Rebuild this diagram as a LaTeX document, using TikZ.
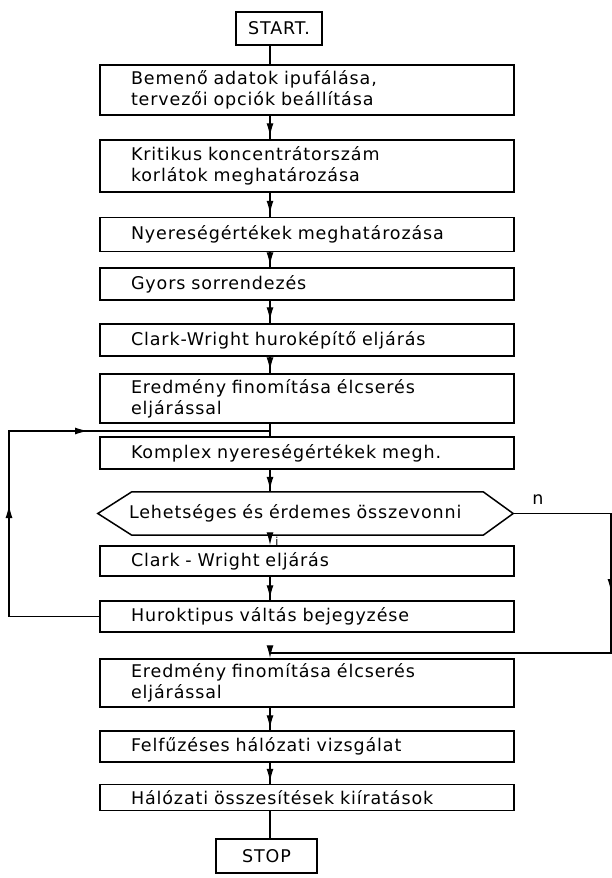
\documentclass[tikz,border=0pt]{standalone}
\usepackage{fontspec}
\setmainfont[WordSpace=2,LetterSpace=5]{DejaVu Sans}
\usetikzlibrary{arrows.meta,calc}
\begin{document}
\begin{tikzpicture}[x=1pt,y=-1pt,
  txt/.style={font=\fontsize{17.5}{21}\selectfont},
  box/.style={draw, line width=1.5pt, txt, text width=352pt, inner xsep=31pt, inner ysep=0pt, align=left},
  term/.style={draw, line width=1.5pt, txt, inner sep=0pt},
  conn/.style={line width=1.3pt},
  arr/.style={conn, -{Latex[length=13pt,width=7pt]}},
]
\useasboundingbox (0,0) rectangle (612,878);
\coordinate (cx) at (270,0);

\node[term, minimum width=86pt, minimum height=33pt] (start) at (279,28.5) {START.};
\node[box, minimum height=50pt] (b1) at (307,90) {Bemenő adatok ipufálása,\\tervezői opciók beállítása};
\node[box, minimum height=52pt] (b2) at (307,166) {Kritikus koncentrátorszám\\korlátok meghatározása};
\node[box, minimum height=34pt] (b3) at (307,234.5) {Nyereségértékek meghatározása};
\node[box, minimum height=32pt] (b4) at (307,284) {Gyors sorrendezés};
\node[box, minimum height=32pt] (b5) at (307,340) {Clark-Wright huroképítő eljárás};
\node[box, minimum height=49pt] (b6) at (307,398.5) {Eredmény finomítása élcserés\\eljárással};
\node[box, minimum height=32pt] (b7) at (307,453) {Komplex nyereségértékek megh.};
\node[txt, text width=353pt, inner xsep=31pt, inner ysep=0pt, minimum height=43pt, align=left] (hex) at (305.5,513.5) {Lehetséges és érdemes összevonni};
\draw[line width=1.5pt] (hex.west) -- ($(hex.north west)+(34,0)$) -- ($(hex.north east)+(-30,0)$) -- (hex.east) -- ($(hex.south east)+(-30,0)$) -- ($(hex.south west)+(34,0)$) -- cycle;
\node[box, minimum height=30pt] (b8) at (307,561) {Clark - Wright eljárás};
\node[box, minimum height=31pt] (b9) at (307,616.5) {Huroktipus váltás bejegyzése};
\node[box, minimum height=48pt] (b10) at (307,683) {Eredmény finomítása élcserés\\eljárással};
\node[box, minimum height=31pt] (b11) at (307,746.5) {Felfűzéses hálózati vizsgálat};
\node[box, minimum height=26pt] (b12) at (307,797.5) {Hálózati összesítések kiíratások};
\node[term, minimum width=101pt, minimum height=34pt] (stop) at (266.5,856) {STOP};

\node[txt, inner sep=0pt] (nlab) at (538,500) {n};
\node[txt, font=\fontsize{11}{13}\selectfont, inner sep=0pt] (ilab) at (277,541) {i};

\draw[conn] (start.south -| cx) -- (b1.north -| cx);
\draw[conn] (b1.south -| cx) -- (b2.north -| cx);
\draw[arr] (b1.south -| cx) -- ($(b2.north -| cx)+(0,-3)$);
\draw[conn] (b2.south -| cx) -- (b3.north -| cx);
\draw[arr] (b2.south -| cx) -- ($(b3.north -| cx)+(0,-3)$);
\draw[conn] (b3.south -| cx) -- (b4.north -| cx);
\draw[arr] (b3.south -| cx) -- ($(b4.north -| cx)+(0,-2)$);
\draw[conn] (b4.south -| cx) -- (b5.north -| cx);
\draw[arr] (b4.south -| cx) -- ($(b5.north -| cx)+(0,-3)$);
\draw[conn] (b5.south -| cx) -- (b6.north -| cx);
\draw[arr] (b5.south -| cx) -- ($(b6.north -| cx)+(0,-3)$);
\draw[conn] (b6.south -| cx) -- (b7.north -| cx);
\draw[conn] (b7.south -| cx) -- (hex.north -| cx);
\draw[arr] (b7.south -| cx) -- ($(hex.north -| cx)+(0,-2)$);
\draw[arr] (hex.south -| cx) -- (b8.north -| cx);
\draw[conn] (b8.south -| cx) -- (b9.north -| cx);
\draw[arr] (b8.south -| cx) -- ($(b9.north -| cx)+(0,-2)$);

\coordinate (lt) at (9,431);
\coordinate (jt) at (270,431);
\coordinate (lb) at (9,616.5);
\coordinate (lm) at (9,505);
\coordinate (tm) at (88,431);
\draw[conn] (b9.west) -- (lb) -- (lt) -- (jt);
\draw[arr] (lb) -- (lm);
\draw[arr] (lt) -- (tm);

\coordinate (rt) at (611,653);
\coordinate (rm) at (611,592);
\coordinate (jb) at (270,653);
\draw[conn] (hex.east) -- (hex.east -| rt) -- (rt) -- (jb);
\draw[arr] (hex.east -| rt) -- (rm);
\draw[arr] (jb) -- (b10.north -| cx);

\draw[conn] (b10.south -| cx) -- (b11.north -| cx);
\draw[arr] (b10.south -| cx) -- ($(b11.north -| cx)+(0,-2)$);
\draw[conn] (b11.south -| cx) -- (b12.north -| cx);
\draw[arr] (b11.south -| cx) -- ($(b12.north -| cx)+(0,-2)$);
\draw[conn] (b12.south -| cx) -- (stop.north -| cx);
\end{tikzpicture}
\end{document}
